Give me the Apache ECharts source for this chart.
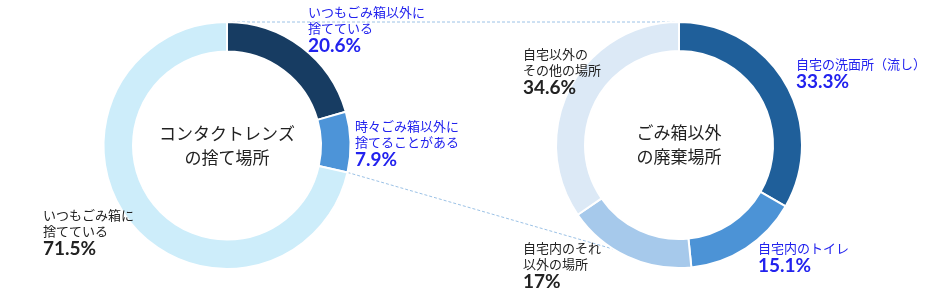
<!DOCTYPE html>
<html>
<head>
<meta charset="utf-8">
<script src="https://cdn.jsdelivr.net/npm/echarts@6/dist/echarts.min.js"></script>
<style>html,body{margin:0;padding:0;background:#fff}#c{width:940px;height:304px}</style>
</head>
<body>
<div id="c"></div>
<script>
// Data
const leftTitle = 'コンタクトレンズ\nの捨て場所';
const leftNames = ['いつもごみ箱以外に\n捨てている', '時々ごみ箱以外に\n捨てることがある', 'いつもごみ箱に\n捨てている'];
const leftValues = [20.6, 7.9, 71.5];
const leftColors = ['#173c62', '#4d94d8', '#cdedfa'];
const leftLabelBlue = [true, true, false];

const rightTitle = 'ごみ箱以外\nの廃棄場所';
const rightNames = ['自宅の洗面所（流し）', '自宅内のトイレ', '自宅内のそれ\n以外の場所', '自宅以外の\nその他の場所'];
const rightValues = [33.3, 15.1, 17, 34.6];
const rightColors = ['#1f5f9a', '#4c93d6', '#a6c9eb', '#dce9f6'];
const rightLabelBlue = [true, true, false, false];

// Layout (styles)
const L = {cx: 227, cy: 145.5, r0: 94, r1: 123.5};
const R = {cx: 679, cy: 145, r0: 94, r1: 123};
const leftLabelPos = [[308, 4], [355, 118], [43, 207]];
const rightLabelPos = [[796, 56], [758, 240], [523, 240], [523, 46]];
const BLUE = '#2222ee';
const BLACK = '#222222';
const FONT = '"Noto Sans CJK JP", "Noto Sans", sans-serif';
const PFONT = 'Lato, "Noto Sans", sans-serif';

function fmtLabel(name, value, blue) {
  const s = blue ? 'b' : 'k';
  const lines = name.split('\n').map(t => '{' + s + 'n|' + t + '}');
  return lines.join('\n') + '\n{' + s + 'p|' + value + '%}';
}
const rich = {
  bn: {fontFamily: FONT, fontSize: 13, lineHeight: 16, color: BLUE},
  kn: {fontFamily: FONT, fontSize: 13, lineHeight: 16, color: BLACK},
  bp: {fontFamily: PFONT, fontSize: 19, fontWeight: 'bold', lineHeight: 20, color: BLUE},
  kp: {fontFamily: PFONT, fontSize: 19, fontWeight: 'bold', lineHeight: 20, color: BLACK}
};

function makePie(G, names, values, colors, blues, pos) {
  return {
    type: 'pie',
    center: [G.cx, G.cy],
    radius: [G.r0, G.r1],
    startAngle: 90,
    clockwise: true,
    animation: false,
    silent: true,
    z: 2,
    avoidLabelOverlap: false,
    itemStyle: {borderColor: '#ffffff', borderWidth: 2},
    label: {
      show: true,
      position: 'outside',
      overflow: 'none',
      formatter: p => fmtLabel(names[p.dataIndex], values[p.dataIndex], blues[p.dataIndex]),
      rich: rich
    },
    labelLine: {show: false},
    labelLayout: p => ({x: pos[p.dataIndex][0], y: pos[p.dataIndex][1], align: 'left', verticalAlign: 'top'}),
    data: values.map((v, i) => ({value: v, name: names[i], itemStyle: {color: colors[i]}}))
  };
}

// connector lines derived from data
const leftTotal = leftValues.reduce((a, b) => a + b, 0);
const zoomFrac = (leftValues[0] + leftValues[1]) / leftTotal;
const ang = zoomFrac * 2 * Math.PI;
const bx = L.cx + L.r1 * Math.sin(ang);
const by = L.cy - L.r1 * Math.cos(ang);
const dashStyle = {stroke: '#9cc2e6', lineWidth: 1, lineDash: [3, 2]};

const chart = echarts.init(document.getElementById('c'), null, {renderer: 'canvas'});
chart.setOption({
  backgroundColor: '#ffffff',
  animation: false,
  graphic: [
    {type: 'line', z: 0, shape: {x1: L.cx, y1: L.cy - L.r1, x2: R.cx, y2: R.cy - R.r1}, style: dashStyle, silent: true},
    {type: 'line', z: 0, shape: {x1: bx, y1: by, x2: R.cx, y2: R.cy + R.r1}, style: dashStyle, silent: true},
    {type: 'text', z: 10, x: L.cx, y: L.cy, style: {text: leftTitle, font: '17px ' + FONT, lineHeight: 24, fill: BLACK, align: 'center', verticalAlign: 'middle'}},
    {type: 'text', z: 10, x: R.cx, y: R.cy, style: {text: rightTitle, font: '17px ' + FONT, lineHeight: 24, fill: BLACK, align: 'center', verticalAlign: 'middle'}}
  ],
  series: [
    makePie(L, leftNames, leftValues, leftColors, leftLabelBlue, leftLabelPos),
    makePie(R, rightNames, rightValues, rightColors, rightLabelBlue, rightLabelPos)
  ]
});
</script>
</body>
</html>
